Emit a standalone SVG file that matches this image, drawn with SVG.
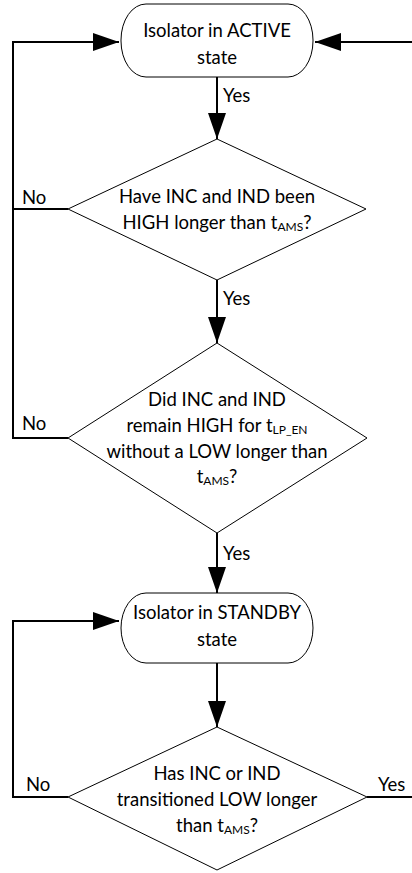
<svg xmlns="http://www.w3.org/2000/svg" width="412" height="873" viewBox="0 0 412 873">
<defs>
<marker id="arr" markerUnits="userSpaceOnUse" markerWidth="26" markerHeight="18" refX="26" refY="9" orient="auto">
<path d="M0,0 L26,9 L0,18 z" fill="#000"/>
</marker>
<style>
.shape{fill:#fff;stroke:#000;stroke-width:1}
.conn{fill:none;stroke:#000;stroke-width:2}
text{font-family:Lato,"Open Sans","Liberation Sans",sans-serif;font-size:18.5px;fill:#000}
.c{text-anchor:middle}
.sub{font-size:12px}
</style>
</defs>
<rect width="412" height="873" fill="#fff"/>
<g id="connectors">
<path class="conn" d="M68,209 H13 V42 H119" marker-end="url(#arr)"/>
<path class="conn" d="M68,438 H13 V209"/>
<path class="conn" d="M412,42 H315" marker-end="url(#arr)"/>
<path class="conn" d="M217,77 V139" marker-end="url(#arr)"/>
<path class="conn" d="M217,280 V343" marker-end="url(#arr)"/>
<path class="conn" d="M217,533 V593" marker-end="url(#arr)"/>
<path class="conn" d="M217,663 V727" marker-end="url(#arr)"/>
<path class="conn" d="M68,797 H13 V621 H119" marker-end="url(#arr)"/>
<path class="conn" d="M367,797 H412"/>
<text x="223" y="102">Yes</text>
<text x="223" y="305">Yes</text>
<text x="223" y="560">Yes</text>
<text x="22" y="204">No</text>
<text x="22" y="430">No</text>
<text x="26" y="791">No</text>
<text x="378" y="791">Yes</text>
</g>
<g id="active">
<rect class="shape" x="121" y="4" width="192" height="73" rx="25" ry="36"/>
<text class="c" x="217" y="37">Isolator in ACTIVE</text>
<text class="c" x="217" y="64">state</text>
</g>
<g id="decision1">
<polygon class="shape" points="217,139 366,209 217,280 68,209"/>
<text class="c" x="217" y="203">Have INC and IND been</text>
<text class="c" x="217" y="229">HIGH longer than t<tspan class="sub" dy="2">AMS</tspan><tspan dy="-2">?</tspan></text>
</g>
<g id="decision2">
<polygon class="shape" points="217,343 367,438 217,533 68,438"/>
<text class="c" x="217" y="406">Did INC and IND</text>
<text class="c" x="217" y="432">remain HIGH for t<tspan class="sub" dy="2">LP_EN</tspan></text>
<text class="c" x="217" y="458">without a LOW longer than</text>
<text class="c" x="217" y="483">t<tspan class="sub" dy="2">AMS</tspan><tspan dy="-2">?</tspan></text>
</g>
<g id="standby">
<rect class="shape" x="121" y="593" width="192" height="70" rx="25" ry="35"/>
<text class="c" x="217" y="619">Isolator in STANDBY</text>
<text class="c" x="217" y="646">state</text>
</g>
<g id="decision3">
<polygon class="shape" points="217,727 367,797 217,870 68,797"/>
<text class="c" x="217" y="780">Has INC or IND</text>
<text class="c" x="217" y="806">transitioned LOW longer</text>
<text class="c" x="217" y="832">than t<tspan class="sub" dy="2">AMS</tspan><tspan dy="-2">?</tspan></text>
</g>
</svg>
